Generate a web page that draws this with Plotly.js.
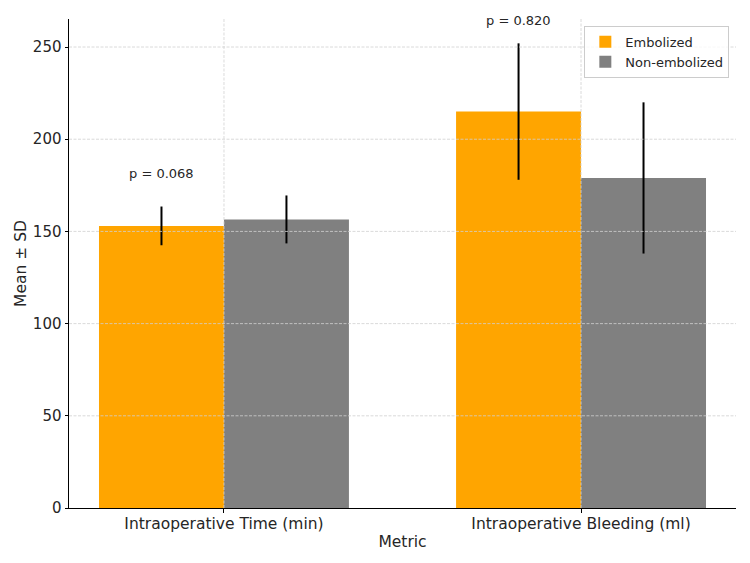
<!DOCTYPE html>
<html>
<head>
<meta charset="utf-8">
<script src="https://cdn.plot.ly/plotly-3.0.1.min.js"></script>
<style>
  html, body { margin: 0; padding: 0; background: #fff; }
  #chart { width: 750px; height: 563px; }
</style>
</head>
<body>
<div id="chart"></div>
<script>
// Intraoperative metrics, embolized vs non-embolized groups (mean ± SD)
const metrics = ["Intraoperative Time (min)", "Intraoperative Bleeding (ml)"];
const embolizedMean = [153, 215];
const embolizedSD = [10.5, 37];
const nonEmbolizedMean = [156.5, 179];
const nonEmbolizedSD = [13, 41];
const pValues = ["p = 0.068", "p = 0.820"];
const yTicks = [0, 50, 100, 150, 200, 250];

const positions = metrics.map((_, i) => i);
const barWidth = 0.35;
const fontFamily = "DejaVu Sans, Liberation Sans, sans-serif";
const textColor = "#262626";

const traces = [
  {
    type: "bar",
    name: "Embolized",
    x: positions,
    y: embolizedMean,
    width: barWidth,
    offset: -barWidth,
    marker: { color: "#FFA500", line: { width: 0 } },
    error_y: { type: "data", array: embolizedSD, visible: true, color: "#000", thickness: 2, width: 0 }
  },
  {
    type: "bar",
    name: "Non-embolized",
    x: positions,
    y: nonEmbolizedMean,
    width: barWidth,
    offset: 0,
    marker: { color: "#808080", line: { width: 0 } },
    error_y: { type: "data", array: nonEmbolizedSD, visible: true, color: "#000", thickness: 2, width: 0 }
  }
];

// p-value label sits a little above the taller error bar of each metric
const annotations = positions.map((i) => {
  const top = Math.max(embolizedMean[i] + embolizedSD[i], nonEmbolizedMean[i] + nonEmbolizedSD[i]);
  return {
    x: i - barWidth / 2,
    y: top + 7,
    xref: "x",
    yref: "y",
    text: pValues[i],
    showarrow: false,
    yanchor: "bottom",
    font: { family: fontFamily, size: 13, color: textColor }
  };
});

// dashed grid drawn over the bars
const gridStyle = { color: "#d0d0d0", width: 0.8, dash: "3px,1.5px" };
const shapes = [];
yTicks.slice(1).forEach((v) => {
  shapes.push({ type: "line", xref: "paper", yref: "y", x0: 0, x1: 1, y0: v, y1: v, line: gridStyle, layer: "above" });
});
positions.forEach((p) => {
  shapes.push({ type: "line", xref: "x", yref: "paper", x0: p, x1: p, y0: 0, y1: 1, line: gridStyle, layer: "above" });
});

const layout = {
  width: 750,
  height: 563,
  margin: { l: 69, r: 14, t: 19, b: 55 },
  paper_bgcolor: "#fff",
  plot_bgcolor: "#fff",
  barmode: "overlay",
  font: { family: fontFamily, color: textColor, size: 15.5 },
  xaxis: {
    range: [-0.434, 1.434],
    tickvals: positions,
    ticktext: metrics,
    showgrid: false,
    zeroline: false,
    showline: true,
    linecolor: "#000",
    linewidth: 1,
    ticks: "outside",
    ticklen: 3.5,
    tickcolor: "#000",
    ticklabelstandoff: -2,
    tickfont: { size: 15.5, color: textColor },
    title: { text: "Metric", font: { size: 15.5, color: textColor }, standoff: 4 }
  },
  yaxis: {
    range: [0, 265.2],
    tickvals: yTicks,
    showgrid: false,
    zeroline: false,
    showline: true,
    linecolor: "#000",
    linewidth: 1,
    ticks: "outside",
    ticklen: 3.5,
    tickcolor: "#000",
    tickfont: { size: 15, color: textColor },
    title: { text: "Mean ± SD", font: { size: 15.5, color: textColor }, standoff: 2 }
  },
  legend: {
    x: 0.99,
    y: 0.986,
    xanchor: "right",
    yanchor: "top",
    bgcolor: "rgba(255,255,255,0.8)",
    bordercolor: "#cccccc",
    borderwidth: 1,
    font: { size: 13, color: textColor },
    tracegroupgap: 0
  },
  annotations: annotations,
  shapes: shapes,
  showlegend: true
};

Plotly.newPlot("chart", traces, layout, { displayModeBar: false, staticPlot: true });
</script>
</body>
</html>
